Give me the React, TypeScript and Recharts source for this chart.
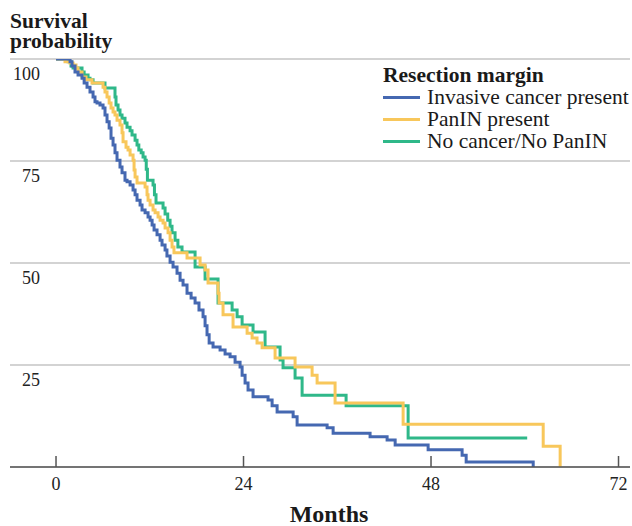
import React from 'react';
import { LineChart, Line, XAxis, YAxis, CartesianGrid, Legend } from 'recharts';

// [months, survival %] step points
const invasive: [number, number][] = [
  [0, 100], [1.8, 99.3], [2.05, 98.3], [2.43, 96.8], [2.82, 96.1], [3.33, 95.3], [3.6, 94.1], [3.97, 93.1],
  [4.35, 91.9], [4.74, 90.7], [4.99, 89.5], [5.25, 89.2], [5.63, 88.7], [6.02, 88.0], [6.27, 86.3], [6.53, 84.6],
  [6.8, 83.1], [7.04, 80.6], [7.3, 78.9], [7.55, 77.0], [7.81, 75.2], [8.19, 73.5], [8.45, 72.1], [8.83, 70.3],
  [9.09, 69.9], [9.48, 69.1], [9.86, 67.9], [10.12, 66.7], [10.37, 65.4], [10.76, 64.2], [11.01, 63.0], [11.4, 62.3],
  [11.78, 61.3], [12.04, 60.5], [12.3, 59.3], [12.55, 58.1], [12.93, 56.9], [13.32, 55.6], [13.57, 54.4], [13.96, 53.2],
  [14.2, 51.7], [14.6, 50.2], [14.98, 49.0], [15.49, 47.5], [15.88, 45.8], [16.26, 44.6], [16.77, 42.6], [17.29, 41.4],
  [17.8, 40.2], [18.3, 38.5], [18.82, 36.8], [19.08, 34.6], [19.33, 32.4], [19.6, 30.4], [20.1, 29.4], [21.0, 28.7],
  [21.64, 27.7], [22.28, 27.0], [22.92, 25.7], [23.56, 24.5], [23.82, 22.5], [24.2, 20.6], [24.58, 18.9], [25.22, 17.2],
  [27.14, 16.4], [27.66, 15.0], [28.3, 13.5], [30.35, 12.3], [30.86, 10.3], [34.7, 9.6], [35.47, 8.3], [40.2, 7.4],
  [42.38, 6.6], [43.41, 5.4], [47.63, 4.2], [51.98, 2.9], [52.5, 1.2], [61.08, 0],
];

const panin: [number, number][] = [
  [0, 100], [1.15, 99.3], [1.79, 99.0], [2.18, 98.5], [2.56, 97.8], [2.82, 96.8], [3.33, 95.6], [3.84, 94.9],
  [4.61, 94.1], [6.02, 93.1], [6.27, 91.9], [6.53, 90.7], [6.8, 89.2], [7.04, 88.0], [7.3, 87.0], [7.55, 86.3],
  [7.81, 85.0], [8.19, 83.8], [8.45, 81.9], [8.58, 79.7], [8.96, 78.4], [9.22, 77.7], [9.48, 76.5], [9.86, 75.2],
  [9.99, 72.8], [10.12, 71.1], [10.37, 69.6], [11.4, 68.6], [11.65, 66.7], [11.78, 65.4], [12.04, 64.2], [12.42, 63.0],
  [12.68, 62.3], [13.06, 61.3], [13.32, 60.5], [13.7, 59.8], [13.96, 58.6], [14.34, 57.4], [14.6, 55.6], [14.85, 53.9],
  [15.1, 52.5], [16.77, 51.2], [18.44, 49.5], [19.08, 48.3], [19.46, 45.1], [20.74, 42.6], [20.87, 40.2], [21.38, 37.3],
  [22.66, 34.3], [24.46, 32.8], [25.1, 31.6], [25.73, 30.4], [26.38, 29.2], [28.04, 26.7], [30.6, 24.5], [32.78, 22.5],
  [33.42, 20.6], [35.72, 15.7], [44.43, 10.5], [62.36, 5.1], [64.53, 0],
];

const noCancer: [number, number][] = [
  [0, 100], [1.54, 99.3], [1.92, 98.3], [2.18, 97.8], [3.33, 96.8], [3.6, 96.1], [4.1, 95.3], [4.35, 94.9],
  [4.74, 94.1], [6.27, 92.9], [7.55, 90.7], [7.68, 88.7], [7.94, 87.5], [8.19, 86.3], [8.45, 85.5], [8.83, 84.3],
  [9.09, 83.3], [9.48, 82.4], [9.73, 81.4], [10.12, 80.1], [10.37, 78.9], [10.6, 77.7], [10.9, 77.0], [11.14, 76.0],
  [11.4, 75.2], [11.55, 73.0], [11.7, 70.3], [12.42, 69.1], [12.6, 66.7], [12.8, 64.7], [13.7, 63.5], [13.96, 62.0],
  [14.3, 60.5], [14.6, 59.0], [14.85, 57.4], [15.24, 55.6], [15.6, 53.9], [16.13, 52.7], [17.8, 49.0], [19.08, 46.1],
  [20.74, 40.2], [22.54, 38.5], [23.18, 36.8], [23.82, 34.8], [25.22, 33.1], [26.76, 29.4], [28.68, 26.2], [29.06, 24.3],
  [30.6, 21.8], [31.5, 17.6], [37.13, 15.0], [45.07, 7.1], [60.31, 7.1],
];

const xTicks = [0, 24, 48, 72];
const yTicks = [25, 50, 75, 100];

const SERIES = [
  { key: 'invasive', name: 'Invasive cancer present', color: '#4568b1', points: invasive },
  { key: 'panin', name: 'PanIN present', color: '#f8c75b', points: panin },
  { key: 'nocancer', name: 'No cancer/No PanIN', color: '#2fb889', points: noCancer },
];

const toRows = (pts: [number, number][]) => pts.map(([t, s]) => ({ t, s }));

const FONT = '"Liberation Serif", "Times New Roman", serif';

const XTick = (props: any) => {
  const { x, y, payload } = props;
  return (
    <g>
      <line x1={x} x2={x} y1={y} y2={y - 11} stroke="#555" strokeWidth={1.5} />
      <text x={x} y={y + 23} textAnchor="middle" fontSize={18} fontFamily={FONT} fill="#222">
        {payload.value}
      </text>
    </g>
  );
};

const YTick = (props: any) => {
  const { x, y, payload } = props;
  return (
    <text x={x + 30} y={y + 21} textAnchor="end" fontSize={18} fontFamily={FONT} fill="#222">
      {payload.value}
    </text>
  );
};

const LegendBox = () => (
  <div style={{ fontFamily: FONT, fontSize: 21.5, lineHeight: '22px', color: '#1a1a1a' }}>
    <div style={{ fontWeight: 'bold', height: 22, whiteSpace: 'nowrap' }}>Resection margin</div>
    {SERIES.map((s) => (
      <div key={s.key} style={{ display: 'flex', alignItems: 'center', height: 22 }}>
        <div style={{ width: 37, height: 3, background: s.color, marginRight: 7, flexShrink: 0 }} />
        <span style={{ whiteSpace: 'nowrap' }}>{s.name}</span>
      </div>
    ))}
  </div>
);

export default function App() {
  const drawOrder = [SERIES[2], SERIES[1], SERIES[0]];
  return (
    <div style={{ position: 'absolute', left: 0, top: 0, width: 632, height: 526, background: '#fff', fontFamily: FONT }}>
      <div
        style={{
          position: 'absolute', left: 10, top: 11, fontSize: 21.5, lineHeight: '20px',
          fontWeight: 'bold', color: '#1a1a1a',
        }}
      >
        <div style={{ height: 20 }}>Survival</div>
        <div style={{ height: 20 }}>probability</div>
      </div>
      <LineChart width={632} height={526} margin={{ top: 59, right: 2, bottom: 0, left: 0 }}>
        <CartesianGrid vertical={false} stroke="#c4c4c4" strokeWidth={1.5} />
        <XAxis
          type="number"
          dataKey="t"
          domain={[-5.89, 73.47]}
          ticks={xTicks}
          height={59}
          axisLine={{ stroke: '#555', strokeWidth: 1.5 }}
          tickLine={false}
          tickSize={0}
          tickMargin={0}
          tick={XTick}
          interval={0}
          allowDataOverflow
        />
        <YAxis
          type="number"
          domain={[0, 100]}
          ticks={yTicks}
          width={10}
          axisLine={false}
          tickLine={false}
          tickSize={0}
          tickMargin={0}
          tick={YTick}
          interval={0}
          allowDataOverflow
        />
        <Legend
          layout="vertical"
          align="center"
          verticalAlign="middle"
          content={() => <LegendBox />}
          wrapperStyle={{ left: 383, top: 64, width: 250 }}
        />
        {drawOrder.map((s) => (
          <Line
            key={s.key}
            data={toRows(s.points)}
            dataKey="s"
            name={s.name}
            type="stepAfter"
            stroke={s.color}
            strokeWidth={3}
            dot={false}
            activeDot={false}
            isAnimationActive={false}
          />
        ))}
      </LineChart>
      <div
        style={{
          position: 'absolute', left: 229, width: 200, top: 502, textAlign: 'center',
          fontSize: 24, lineHeight: '24px', fontWeight: 'bold', color: '#1a1a1a',
        }}
      >
        Months
      </div>
    </div>
  );
}
